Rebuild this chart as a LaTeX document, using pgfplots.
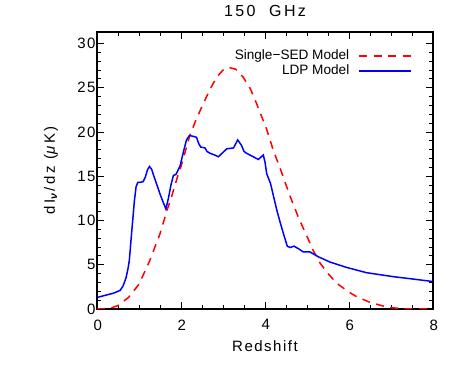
\documentclass[border=0pt]{standalone}
\usepackage{fontspec}
\setmainfont{Liberation Sans}
\newfontfamily\lsfont[LetterSpace=10]{Liberation Sans}
\newfontfamily\ylfont[LetterSpace=17]{Liberation Sans}
\newfontfamily\wsfont[LetterSpace=15,WordSpace=2]{Liberation Sans}
\usepackage{pgfplots}
\pgfplotsset{compat=1.18}

\begin{document}
\begin{tikzpicture}
\path[use as bounding box] (-97pt,-62pt) rectangle (366pt,309pt);
\begin{axis}[
    at={(0pt,0pt)}, anchor=south west,
    width=336pt, height=277pt, scale only axis,
    xmin=0, xmax=8, ymin=0, ymax=31.3,
    xtick={0,2,4,6,8}, ytick={0,5,10,15,20,25,30},
    minor x tick num=3, minor y tick num=4,
    tick align=inside, major tick length=7pt, minor tick length=4pt,
    axis line style={line width=1.1pt},
    every tick/.style={line width=0.9pt, black},
    /pgf/number format/assume math mode=true,
    tick label style={font=\lsfont\fontsize{15}{15}\selectfont},
    xticklabel style={yshift=-7pt, xshift=0.8pt},
    yticklabel style={xshift=2pt},
    title={150 GHz},
    title style={font=\wsfont\fontsize{16}{16}\selectfont, at={(0.5,1.034)}, anchor=base},
    xlabel={Redshift},
    xlabel style={font=\lsfont\fontsize{15}{15}\selectfont, at={(0.5,-0.152)}, anchor=base},
    ylabel={dI\textsubscript{\textbf{\textit{ν}}}/dz (\textit{μ}K)},
    ylabel style={font=\ylfont\fontsize{15}{15}\selectfont, at={(-0.125,0.5)}, anchor=base, rotate=0},
    legend cell align=right,
    legend plot pos=right,
    legend style={draw=none, fill=none, at={(0.9375,0.942)}, anchor=north east,
        font=\fontsize{13.6}{13.6}\selectfont, inner sep=0pt, row sep=0pt, column sep=8pt,
        nodes={inner sep=1pt, text height=10pt, text depth=3pt}},
    legend image code/.code={\draw[#1] (0pt,0pt) -- (52pt,0pt);},
]
\addplot[red, line width=1.5pt, dash pattern=on 8pt off 6.5pt] coordinates {
(0,0) (0.3,0.05) (0.5,0.4) (0.75,1.3) (1.0,2.8) (1.25,5.4) (1.5,8.5)
(1.67,11.2) (1.75,12.3) (1.94,15.3) (2.0,16.1) (2.21,19.6) (2.35,21.3)
(2.53,23.2) (2.7,24.9) (2.85,26.2) (3.0,27.0) (3.13,27.3) (3.3,27.1)
(3.48,26.2) (3.65,24.9) (3.8,23.2) (4.04,20.3) (4.2,17.9) (4.36,15.9)
(4.6,12.7) (4.8,10.3) (5.0,8.2) (5.15,6.6) (5.31,5.2) (5.5,4.0)
(5.71,2.9) (6.0,1.9) (6.18,1.4) (6.5,0.75) (6.81,0.34) (7.0,0.15)
(7.3,0.03) (7.6,0) (8.0,0)
};
\addlegendentry{Single−SED Model}
\addplot[blue, line width=1.5pt] coordinates {
(0,1.3) (0.2,1.55) (0.4,1.8) (0.55,2.1) (0.62,2.6) (0.69,3.5) (0.74,4.6)
(0.77,5.5) (0.81,7.8) (0.85,10.0) (0.89,12.2) (0.93,13.8) (0.97,14.3)
(1.02,14.3) (1.1,14.4) (1.15,14.9) (1.2,15.7) (1.25,16.1) (1.3,15.8)
(1.37,14.8) (1.45,13.7) (1.5,13.0) (1.58,12.0) (1.64,11.3) (1.7,12.5)
(1.76,14.0) (1.82,15.1) (1.88,15.2) (1.98,16.2) (2.06,17.8) (2.13,19.1)
(2.2,19.6) (2.3,19.5) (2.37,19.4) (2.42,18.7) (2.47,18.3) (2.57,18.2)
(2.62,17.8) (2.69,17.6) (2.8,17.4) (2.89,17.2) (3.0,17.7) (3.09,18.1)
(3.25,18.2) (3.35,19.1) (3.44,18.5) (3.5,17.8) (3.56,17.6) (3.72,17.2)
(3.84,16.9) (3.96,17.4) (4.0,16.6) (4.04,15.3) (4.13,14.2) (4.2,12.8)
(4.28,11.2) (4.36,9.8) (4.44,8.5) (4.53,7.1) (4.6,6.95) (4.69,7.1)
(4.8,6.8) (4.91,6.45) (5.07,6.45) (5.27,5.9) (5.55,5.3) (5.94,4.7)
(6.42,4.1) (7.06,3.65) (7.5,3.4) (8.0,3.1)
};
\addlegendentry{LDP Model}
\end{axis}
\end{tikzpicture}
\end{document}
